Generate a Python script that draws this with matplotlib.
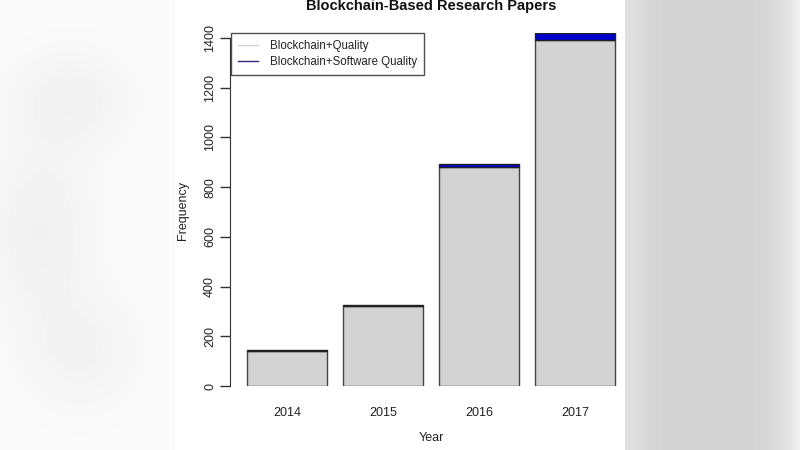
import matplotlib
matplotlib.use("Agg")
import matplotlib.pyplot as plt
import numpy as np

plt.rcParams['font.family'] = ['Liberation Sans', 'DejaVu Sans']

# data
years = ["2014", "2015", "2016", "2017"]
bc_quality = [141, 323, 882, 1392]      # Blockchain+Quality
bc_sw_quality = [3, 3, 13, 27]          # Blockchain+Software Quality
yticks = [0, 200, 400, 600, 800, 1000, 1200, 1400]

fig = plt.figure(figsize=(8, 4.5), dpi=100)
fig.patch.set_facecolor("white")

# blurred page background either side of the chart
bg = fig.add_axes([0, 0, 1, 1], zorder=-10)
bg.set_xlim(0, 800)
bg.set_ylim(450, 0)
bg.axis("off")
X, Y = np.meshgrid(np.arange(800), np.arange(450))
img = np.ones((450, 800))
lx = X < 175
blobs = (0.03 * np.exp(-(((X - 70) / 60.0) ** 2 + ((Y - 100) / 50.0) ** 2))
         + 0.035 * np.exp(-(((X - 40) / 50.0) ** 2 + ((Y - 230) / 80.0) ** 2))
         + 0.025 * np.exp(-(((X - 80) / 60.0) ** 2 + ((Y - 350) / 60.0) ** 2)))
img[lx] = (0.98 - blobs)[lx]
rx = X >= 625
r = (X - 625) / 175.0
right = 0.83 + 0.05 * np.exp(-(r / 0.12) ** 2) + 0.11 * np.clip((r - 0.7) / 0.3, 0, 1) ** 2
img[rx] = right[rx]
bg.imshow(img, cmap="gray", vmin=0, vmax=1, extent=(0, 800, 450, 0), aspect="auto")

# plot region in R-barplot style coordinates (bar width 1, space 0.2)
ax = fig.add_axes([230 / 800, (450 - 386) / 450, 402 / 800, 353 / 450])
ax.set_facecolor("none")
x = 0.7 + 1.2 * np.arange(len(years))
ax.bar(x, bc_quality, width=1.0, color="#d3d3d3", edgecolor="#444444", linewidth=1.0)
ax.bar(x, bc_sw_quality, width=1.0, bottom=bc_quality, color="#0000cc",
       edgecolor="#222222", linewidth=1.0)

ax.set_xlim(-0.0125, 5.0125)
ax.set_ylim(0, 1420)
for s in ["top", "right", "bottom"]:
    ax.spines[s].set_visible(False)
ax.spines["left"].set_bounds(0, 1400)
ax.spines["left"].set_color("#333333")
ax.set_yticks(yticks)
ax.set_yticklabels([str(v) for v in yticks], rotation=90, va="center", fontsize=9, color="#222222")
ax.tick_params(axis="y", length=7, width=1, color="#333333", direction="out", pad=3)
ax.set_xticks(x)
ax.set_xticklabels(years, fontsize=9, color="#222222")
ax.tick_params(axis="x", length=0, pad=15)

ax.set_ylabel("Frequency", fontsize=9, color="#222222", va="center")
ax.yaxis.set_label_coords(-47 / 402, 0.5 - 1 / 353)
ax.set_xlabel("Year", fontsize=9, color="#222222", va="center")
ax.xaxis.set_label_coords(0.5, -52 / 353)
fig.text(431 / 800, 1 - 6 / 450, "Blockchain-Based Research Papers", ha="center", va="center",
         fontsize=10.5, fontweight="bold", color="#111111")

leg = ax.legend(handles=[plt.Line2D([], [], color="#d3d3d3", lw=1),
                         plt.Line2D([], [], color="#2a2a80", lw=1)],
                labels=["Blockchain+Quality", "Blockchain+Software Quality"],
                loc="upper left", bbox_to_anchor=(0.0025, 1.0), fontsize=8.3,
                frameon=True, fancybox=False, handlelength=1.7, borderpad=0.65,
                labelspacing=0.3, borderaxespad=0, handletextpad=1.0)
leg.get_frame().set_edgecolor("#222222")
leg.get_frame().set_linewidth(1.0)
for t in leg.get_texts():
    t.set_color("#222222")

fig.savefig("out.png", dpi=100)
